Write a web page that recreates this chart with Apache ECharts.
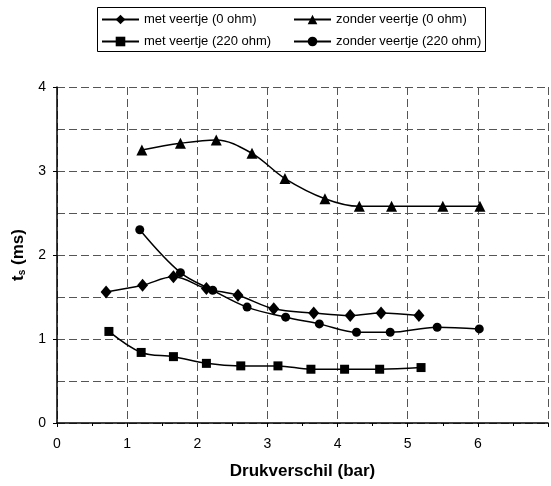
<!DOCTYPE html>
<html>
<head>
<meta charset="utf-8">
<script src="https://cdn.jsdelivr.net/npm/echarts@6/dist/echarts.min.js"></script>
<style>
  html, body { margin: 0; padding: 0; background: #fff; }
  #chart { width: 551px; height: 486px; }
</style>
</head>
<body>
<div id="chart"></div>
<script>
// Drukverschil (bar) vs t_s (ms) for four spring/resistor configurations
const names = [
  'met veertje (0 ohm)',
  'zonder veertje (0 ohm)',
  'met veertje (220 ohm)',
  'zonder veertje (220 ohm)'
];

const metVeer0X   = [0.70, 1.22, 1.66, 2.13, 2.58, 3.09, 3.66, 4.18, 4.62, 5.16];
const metVeer0Y   = [1.56, 1.64, 1.74, 1.60, 1.52, 1.36, 1.31, 1.28, 1.31, 1.28];

const zonderVeer0X = [1.21, 1.76, 2.27, 2.78, 3.25, 3.82, 4.31, 4.77, 5.50, 6.03];
const zonderVeer0Y = [3.25, 3.33, 3.37, 3.21, 2.91, 2.67, 2.58, 2.58, 2.58, 2.58];

const metVeer220X = [0.74, 1.20, 1.66, 2.13, 2.62, 3.15, 3.62, 4.10, 4.60, 5.19];
const metVeer220Y = [1.09, 0.84, 0.79, 0.71, 0.68, 0.68, 0.64, 0.64, 0.64, 0.66];

const zonderVeer220X = [1.18, 1.76, 2.22, 2.71, 3.26, 3.74, 4.27, 4.75, 5.42, 6.02];
const zonderVeer220Y = [2.30, 1.79, 1.58, 1.38, 1.26, 1.18, 1.08, 1.08, 1.14, 1.12];

const xTicks = [0, 1, 2, 3, 4, 5, 6, 7];
const yTicks = [0, 1, 2, 3, 4];

function pairs(xs, ys) { return xs.map((x, i) => [x, ys[i]]); }

const FONT = '"Liberation Sans", Arial, sans-serif';
const dashStyle = { color: '#555', type: [8, 4], width: 1 };

function lineSeries(name, xs, ys, symbol, size) {
  return {
    name: name,
    type: 'line',
    data: pairs(xs, ys),
    smooth: 0.35,
    symbol: symbol,
    symbolSize: size,
    showAllSymbol: true,
    itemStyle: { color: '#000' },
    lineStyle: { color: '#000', width: 1.5 },
    z: 5
  };
}

const chart = echarts.init(document.getElementById('chart'), null, { renderer: 'canvas' });

const legendBase = {
  orient: 'vertical',
  top: 13,
  itemWidth: 37,
  itemHeight: 12,
  itemGap: 9,
  padding: 0,
  selectedMode: false,
  textStyle: { fontFamily: FONT, fontSize: 13, color: '#000' }
};

chart.setOption({
  animation: false,
  backgroundColor: '#fff',
  graphic: [{
    type: 'rect',
    shape: { x: 97.5, y: 7.5, width: 388, height: 44 },
    style: { fill: '#fff', stroke: '#000', lineWidth: 1 },
    z: -1
  }],
  legend: [
    Object.assign({}, legendBase, { left: 101, data: [names[0], names[2]] }),
    Object.assign({}, legendBase, { left: 293, data: [names[1], names[3]] })
  ],
  grid: { left: 57, top: 87, bottom: 63, right: -5, containLabel: false },
  xAxis: {
    type: 'value',
    min: xTicks[0],
    max: xTicks[xTicks.length - 1],
    interval: 1,
    name: 'Drukverschil (bar)',
    nameLocation: 'middle',
    nameGap: 40,
    nameTextStyle: { fontFamily: FONT, fontSize: 17, fontWeight: 'bold', color: '#000' },
    axisLine: { show: true, onZero: false, lineStyle: { color: '#000', width: 1.5 } },
    axisTick: { show: true, inside: false, length: 4, lineStyle: { color: '#000' } },
    minorTick: { show: true, splitNumber: 2, length: 3, lineStyle: { color: '#000' } },
    axisLabel: {
      fontFamily: FONT, fontSize: 14, color: '#000', margin: 14,
      formatter: v => (v === xTicks[xTicks.length - 1] ? '' : String(v))
    },
    splitLine: { show: true, lineStyle: dashStyle }
  },
  yAxis: {
    type: 'value',
    min: yTicks[0],
    max: yTicks[yTicks.length - 1],
    interval: 1,
    name: 't{sub|s} (ms)',
    nameLocation: 'middle',
    nameGap: 28,
    nameRotate: 90,
    nameTextStyle: {
      fontFamily: FONT, fontSize: 17, fontWeight: 'bold', color: '#000',
      rich: { sub: { fontFamily: FONT, fontSize: 10, fontWeight: 'bold', verticalAlign: 'bottom', padding: [8, 0, 0, 0] } }
    },
    axisLine: { show: true, onZero: false, lineStyle: { color: '#000', width: 1.5 } },
    axisTick: { show: true, inside: false, length: 4, lineStyle: { color: '#000' } },
    axisLabel: { fontFamily: FONT, fontSize: 14, color: '#000', margin: 11 },
    splitLine: { show: true, lineStyle: dashStyle },
    minorTick: { show: false, splitNumber: 2 },
    minorSplitLine: { show: true, lineStyle: dashStyle }
  },
  series: [
    lineSeries(names[0], metVeer0X, metVeer0Y, 'diamond', [11, 13]),
    lineSeries(names[1], zonderVeer0X, zonderVeer0Y, 'triangle', 11),
    lineSeries(names[2], metVeer220X, metVeer220Y, 'rect', 9),
    lineSeries(names[3], zonderVeer220X, zonderVeer220Y, 'circle', 9)
  ]
});
</script>
</body>
</html>
